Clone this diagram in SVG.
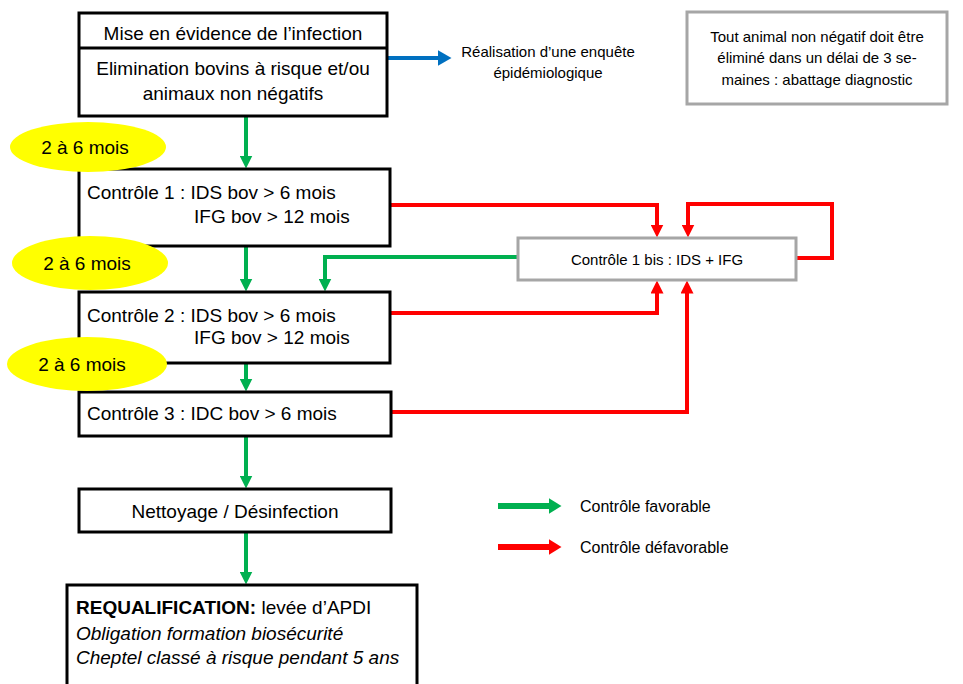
<svg xmlns="http://www.w3.org/2000/svg" width="963" height="684" viewBox="0 0 963 684">
<defs>
<style>
text{font-family:"Liberation Sans",Arial,sans-serif;fill:#000}
.t19{font-size:19px}
.t15{font-size:15px}
.t16{font-size:16px}
.box{fill:#fff;stroke:#000;stroke-width:3}
.gbox{fill:#fff;stroke:#a6a6a6;stroke-width:3}
.ell{fill:#ffff00;stroke:none}
.g{fill:none;stroke:#00b050;stroke-width:4}
.r{fill:none;stroke:#ff0000;stroke-width:4}
.b{fill:none;stroke:#0070c0;stroke-width:4}
</style>
<marker id="ag" viewBox="0 0 13 13" markerUnits="userSpaceOnUse" markerWidth="13" markerHeight="13" refX="0.5" refY="6.5" orient="auto"><path d="M0,0L13,6.5L0,13z" fill="#00b050"/></marker>
<marker id="ar" viewBox="0 0 13 13" markerUnits="userSpaceOnUse" markerWidth="13" markerHeight="13" refX="0.5" refY="6.5" orient="auto"><path d="M0,0L13,6.5L0,13z" fill="#ff0000"/></marker>
<marker id="ab" viewBox="0 0 14 16" markerUnits="userSpaceOnUse" markerWidth="14" markerHeight="16" refX="0.5" refY="8" orient="auto"><path d="M0,0L14,8L0,16z" fill="#0070c0"/></marker>
<marker id="lg" viewBox="0 0 13 16" markerUnits="userSpaceOnUse" markerWidth="13" markerHeight="16" refX="0.5" refY="8" orient="auto"><path d="M0,0L13,8L0,16z" fill="#00b050"/></marker>
<marker id="lr" viewBox="0 0 13 16" markerUnits="userSpaceOnUse" markerWidth="13" markerHeight="16" refX="0.5" refY="8" orient="auto"><path d="M0,0L13,8L0,16z" fill="#ff0000"/></marker>
</defs>
<rect width="963" height="684" fill="#fff"/>

<g id="connectors">
<path class="b" d="M387,58H438" marker-end="url(#ab)"/>
<path class="g" d="M246,116V156" marker-end="url(#ag)"/>
<path class="g" d="M246,246V279" marker-end="url(#ag)"/>
<path class="g" d="M518,257H325V279" marker-end="url(#ag)"/>
<path class="g" d="M246,363V379" marker-end="url(#ag)"/>
<path class="g" d="M246,436V476" marker-end="url(#ag)"/>
<path class="g" d="M246,532V572" marker-end="url(#ag)"/>
<path class="r" d="M390,205H657V225" marker-end="url(#ar)"/>
<path class="r" d="M796,258H832V204H688V225" marker-end="url(#ar)"/>
<path class="r" d="M390,313H657V293" marker-end="url(#ar)"/>
<path class="r" d="M391,412H687V293" marker-end="url(#ar)"/>
</g>

<g id="n-infection">
<rect class="box" x="79" y="13" width="308" height="103"/>
<line x1="79" y1="48" x2="387" y2="48" stroke="#000" stroke-width="3"/>
<text class="t19" x="233" y="40" text-anchor="middle">Mise en évidence de l’infection</text>
<text class="t19" x="233" y="75" text-anchor="middle">Elimination bovins à risque et/ou</text>
<text class="t19" x="233" y="100" text-anchor="middle">animaux non négatifs</text>
</g>

<g id="n-enquete">
<text class="t15" x="548" y="57" text-anchor="middle">Réalisation d’une enquête</text>
<text class="t15" x="548" y="78" text-anchor="middle">épidémiologique</text>
</g>

<g id="n-note">
<rect class="gbox" x="687" y="12" width="260" height="92"/>
<text class="t15" x="817" y="42" text-anchor="middle">Tout animal non négatif doit être</text>
<text class="t15" x="817" y="63" text-anchor="middle">éliminé dans un délai de 3 se-</text>
<text class="t15" x="817" y="85" text-anchor="middle">maines : abattage diagnostic</text>
</g>

<g id="n-c1">
<rect class="box" x="79" y="169" width="311" height="77"/>
<text class="t19" x="87" y="199">Contrôle 1 : IDS bov &gt; 6 mois</text>
<text class="t19" x="194" y="223">IFG bov &gt; 12 mois</text>
</g>

<g id="n-c1bis">
<rect class="gbox" x="518" y="238" width="278" height="42"/>
<text class="t15" x="657" y="265" text-anchor="middle">Contrôle 1 bis : IDS + IFG</text>
</g>

<g id="n-c2">
<rect class="box" x="79" y="292" width="311" height="71"/>
<text class="t19" x="87" y="322">Contrôle 2 : IDS bov &gt; 6 mois</text>
<text class="t19" x="194" y="344">IFG bov &gt; 12 mois</text>
</g>

<g id="n-c3">
<rect class="box" x="79" y="392" width="312" height="44"/>
<text class="t19" x="87" y="420">Contrôle 3 : IDC bov &gt; 6 mois</text>
</g>

<g id="n-nettoyage">
<rect class="box" x="79" y="489" width="312" height="43"/>
<text class="t19" x="235" y="518" text-anchor="middle">Nettoyage / Désinfection</text>
</g>

<g id="n-requal">
<rect class="box" x="67" y="585" width="350" height="120"/>
<text class="t19" x="76" y="614"><tspan font-weight="bold">REQUALIFICATION:</tspan> levée d’APDI</text>
<text class="t19" x="76" y="640" font-style="italic">Obligation formation biosécurité</text>
<text class="t19" x="76" y="664" font-style="italic">Cheptel classé à risque pendant 5 ans</text>
</g>

<g id="n-delai1">
<ellipse class="ell" cx="88" cy="147" rx="78" ry="25"/>
<text class="t19" x="85" y="154" text-anchor="middle">2 à 6 mois</text>
</g>
<g id="n-delai2">
<ellipse class="ell" cx="90" cy="263" rx="78" ry="27"/>
<text class="t19" x="87" y="270" text-anchor="middle">2 à 6 mois</text>
</g>
<g id="n-delai3">
<ellipse class="ell" cx="87" cy="364" rx="80" ry="27"/>
<text class="t19" x="82" y="371" text-anchor="middle">2 à 6 mois</text>
</g>

<g id="legend">
<path d="M498,506H549" stroke="#00b050" stroke-width="6" fill="none" marker-end="url(#lg)"/>
<path d="M498,547H549" stroke="#ff0000" stroke-width="6" fill="none" marker-end="url(#lr)"/>
<text class="t16" x="580" y="512">Contrôle favorable</text>
<text class="t16" x="580" y="553">Contrôle défavorable</text>
</g>
</svg>
